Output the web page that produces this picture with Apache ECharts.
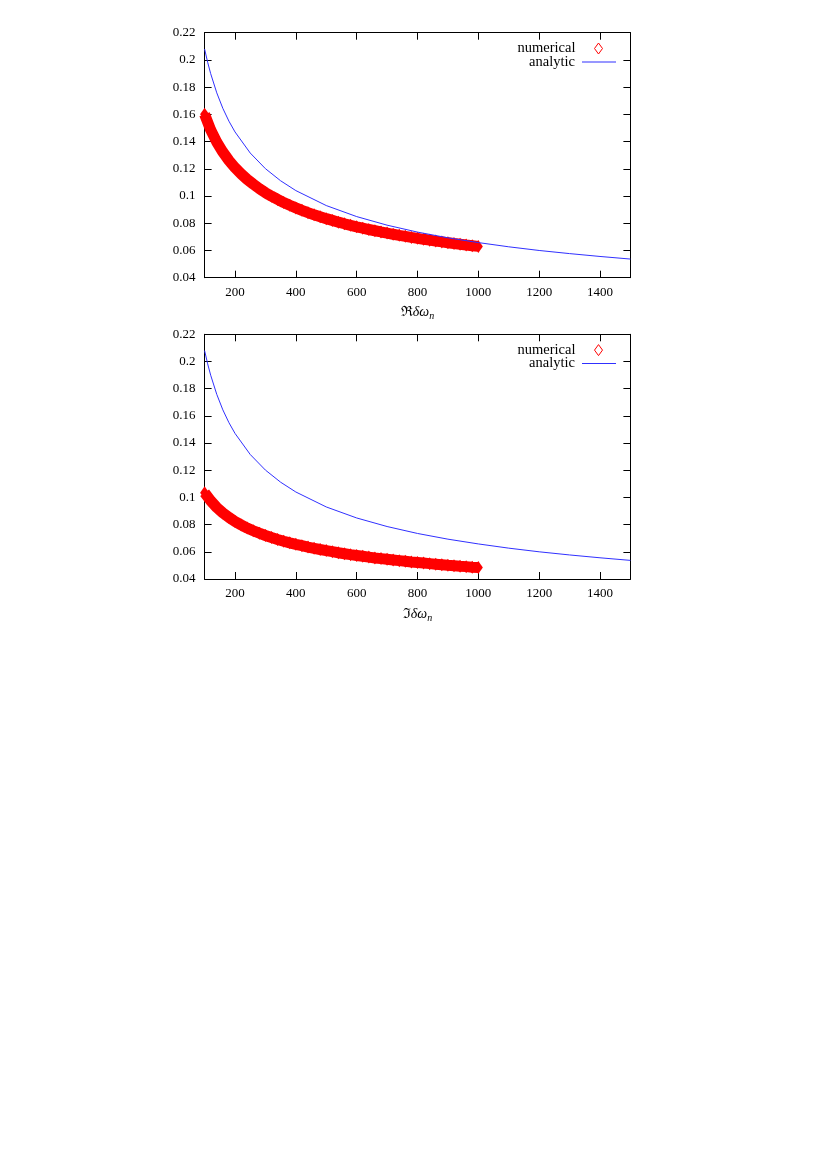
<!DOCTYPE html>
<html>
<head>
<meta charset="utf-8">
<script src="https://cdn.jsdelivr.net/npm/echarts@6/dist/echarts.min.js"></script>
<style>
  html, body { margin: 0; padding: 0; background: #fff; }
  #chart { width: 827px; height: 1170px; }
</style>
</head>
<body>
<div id="chart"></div>
<script>
'use strict';

// tick labels on the x axis
var xTicks = [200, 400, 600, 800, 1000, 1200, 1400];

// numerical points (same x for both panels)
var numX = [100, 120, 140, 160, 180, 200, 220, 240, 260, 280,
            300, 320, 340, 360, 380, 400, 420, 440, 460, 480,
            500, 520, 540, 560, 580, 600, 620, 640, 660, 680,
            700, 720, 740, 760, 780, 800, 820, 840, 860, 880,
            900, 920, 940, 960, 980, 1000];
var numRe = [0.1600, 0.1486, 0.1396, 0.1323, 0.1261, 0.1208, 0.1163, 0.1122, 0.1087, 0.1054,
             0.1025, 0.0999, 0.0975, 0.0952, 0.0932, 0.0913, 0.0895, 0.0878, 0.0862, 0.0848,
             0.0834, 0.0821, 0.0808, 0.0796, 0.0785, 0.0774, 0.0764, 0.0754, 0.0745, 0.0736,
             0.0728, 0.0719, 0.0711, 0.0704, 0.0696, 0.0689, 0.0682, 0.0676, 0.0669, 0.0663,
             0.0657, 0.0651, 0.0646, 0.0640, 0.0635, 0.0630];
var numIm = [0.1035, 0.0975, 0.0926, 0.0886, 0.0853, 0.0823, 0.0798, 0.0775, 0.0755, 0.0737,
             0.0720, 0.0705, 0.0691, 0.0678, 0.0666, 0.0655, 0.0645, 0.0635, 0.0626, 0.0617,
             0.0609, 0.0601, 0.0593, 0.0586, 0.0579, 0.0573, 0.0567, 0.0561, 0.0555, 0.0550,
             0.0545, 0.0540, 0.0535, 0.0530, 0.0525, 0.0521, 0.0517, 0.0513, 0.0509, 0.0505,
             0.0501, 0.0498, 0.0494, 0.0491, 0.0487, 0.0484];

// analytic curve (identical in both panels)
var anaX = [100, 110, 120, 140, 160, 180, 200, 250, 300, 350, 400, 500,
            600, 700, 800, 900, 1000, 1100, 1200, 1300, 1400, 1500];
var anaY = [0.208, 0.1983, 0.1899, 0.1758, 0.1644, 0.1550, 0.1471, 0.1316, 0.1201, 0.1112, 0.1040, 0.0930,
            0.0849, 0.0786, 0.0735, 0.0693, 0.0658, 0.0627, 0.0600, 0.0577, 0.0556, 0.0537];

function zip(xs, ys) {
    var out = [];
    for (var i = 0; i < xs.length; i ++) {
        out.push([xs[i], ys[i]]);
    }
    return out;
}

var FONT = '"Liberation Serif", "DejaVu Serif", serif';
var RED = '#ff0000';
var BLUE = '#3030ff';

// panel layout in pixels
var panels = [
    { top: 32.7, height: 245, name: '{m|ℜ}{g|δω}{s|n}', data: numRe },
    { top: 334.3, height: 244.7, name: '{m|ℑ}{g|δω}{s|n}', data: numIm }
];
var gridLeft = 204.6, gridRight = 827 - 630.4;

var grids = [], xAxes = [], yAxes = [], series = [], legends = [];

panels.forEach(function (p, k) {
    grids.push({ left: gridLeft, right: gridRight, top: p.top, height: p.height });

    var tickCommon = { show: true, inside: true, length: 7, lineStyle: { color: '#000', width: 1 } };
    // bottom x axis
    xAxes.push({
        type: 'value', gridIndex: k, position: 'bottom', min: 100, max: 1500,
        axisLine: { show: true, onZero: false, lineStyle: { color: '#000', width: 1 } },
        axisTick: Object.assign({ customValues: xTicks }, tickCommon),
        axisLabel: {
            customValues: xTicks, color: '#000', fontSize: 13, fontFamily: FONT, margin: 8,
            formatter: function (v) { return String(v); }
        },
        splitLine: { show: false },
        name: p.name, nameLocation: 'middle', nameGap: 26,
        nameTextStyle: {
            color: '#000', fontFamily: FONT, fontSize: 14,
            rich: {
                m: { fontSize: 14, fontFamily: FONT, color: '#000' },
                g: { fontSize: 14, fontFamily: FONT, fontStyle: 'italic', color: '#000' },
                s: { fontSize: 10, fontFamily: FONT, fontStyle: 'italic', color: '#000', padding: [8, 0, 0, 0] }
            }
        }
    });
    // mirrored top x axis
    xAxes.push({
        type: 'value', gridIndex: k, position: 'top', min: 100, max: 1500,
        axisLine: { show: true, onZero: false, lineStyle: { color: '#000', width: 1 } },
        axisTick: Object.assign({ customValues: xTicks }, tickCommon),
        axisLabel: { show: false },
        splitLine: { show: false }
    });
    // left y axis
    yAxes.push({
        type: 'value', gridIndex: k, position: 'left', min: 0.04, max: 0.22, interval: 0.02,
        axisLine: { show: true, onZero: false, lineStyle: { color: '#000', width: 1 } },
        axisTick: tickCommon,
        axisLabel: {
            color: '#000', fontSize: 13, fontFamily: FONT, margin: 9,
            formatter: function (v) { return String(+v.toFixed(2)); }
        },
        splitLine: { show: false }
    });
    // mirrored right y axis
    yAxes.push({
        type: 'value', gridIndex: k, position: 'right', min: 0.04, max: 0.22, interval: 0.02,
        axisLine: { show: true, onZero: false, lineStyle: { color: '#000', width: 1 } },
        axisTick: tickCommon,
        axisLabel: { show: false },
        splitLine: { show: false }
    });

    series.push({
        name: 'numerical', type: 'line', xAxisIndex: 2 * k, yAxisIndex: 2 * k,
        data: zip(numX, p.data),
        symbol: 'diamond', symbolSize: [9, 13], showAllSymbol: true,
        itemStyle: { color: RED },
        lineStyle: { color: RED, width: 11 },
        clip: false, silent: true, animation: false, z: 2
    });
    series.push({
        name: 'analytic', type: 'line', xAxisIndex: 2 * k, yAxisIndex: 2 * k,
        data: zip(anaX, anaY),
        smooth: false, showSymbol: false, symbol: 'none',
        lineStyle: { color: BLUE, width: 1 },
        silent: true, animation: false, z: 3
    });

    var off = p.top - 32.7;
    legends.push({
        data: [{ name: 'numerical', icon: 'diamond',
                 itemStyle: { color: 'rgba(0,0,0,0)', borderColor: RED, borderWidth: 1 } }],
        right: 827 - 603, top: 41 + off, padding: 0, align: 'right',
        itemWidth: 8, itemHeight: 11, selectedMode: false,
        textStyle: { color: '#000', fontFamily: FONT, fontSize: 14.5, padding: [0, 14, 0, 0] }
    });
    legends.push({
        data: [{ name: 'analytic', icon: 'rect', itemStyle: { color: BLUE, borderWidth: 0 } }],
        right: 827 - 616, top: 54.5 + off, padding: 0, align: 'right',
        itemWidth: 34, itemHeight: 1, selectedMode: false,
        textStyle: { color: '#000', fontFamily: FONT, fontSize: 14.5, padding: [0, 2, 0, 0] }
    });
});

var chart = echarts.init(document.getElementById('chart'), null, { renderer: 'canvas' });
chart.setOption({
    backgroundColor: '#fff',
    animation: false,
    grid: grids,
    xAxis: xAxes,
    yAxis: yAxes,
    legend: legends,
    series: series
});
</script>
</body>
</html>
